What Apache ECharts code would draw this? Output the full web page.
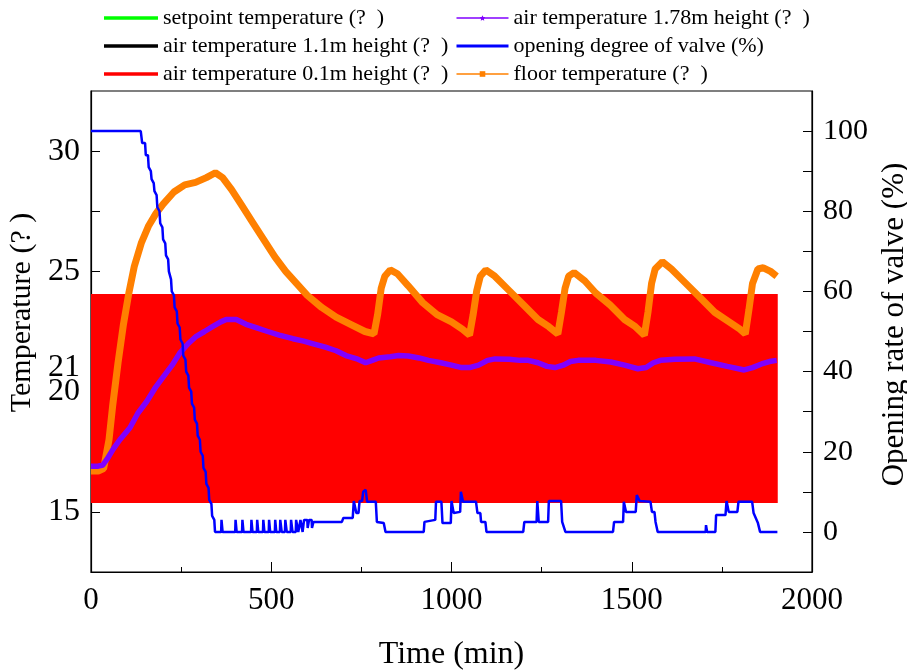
<!DOCTYPE html>
<html><head><meta charset="utf-8">
<script src="https://cdn.jsdelivr.net/npm/echarts@6/dist/echarts.min.js"></script>
<style>html,body{margin:0;padding:0;background:#fff}#c{width:907px;height:671px}</style>
</head><body><div id="c"></div>
<script>
// ---- data (time in min) ----
const seriesNames = [
  'setpoint temperature (?  )',
  'air temperature 1.1m height (?  )',
  'air temperature 0.1m height (?  )',
  'air temperature 1.78m height (?  )',
  'opening degree of valve (%)',
  'floor temperature (?  )'
];
const xTicks = [0, 500, 1000, 1500, 2000];
const leftLabels = [15, 20, 21, 25, 30];
const leftTicks = [15, 17.5, 20, 21, 22.5, 25, 27.5, 30];
const rightLabels = [0, 20, 40, 60, 80, 100];
const rightTicks = [0, 10, 20, 30, 40, 50, 60, 70, 80, 90, 100];
// band of 0.1m air temperature (time range, temperature range)
const band01Time = [0, 1905];
const band01Temp = [15.37, 24.06];

const floorData = [
  [0,16.7],[20,16.7],[35,16.8],[50,18.0],[60,19.4],[75,21.2],[90,22.8],[105,24.1],[120,25.2],[140,26.2],
  [160,26.9],[180,27.4],[200,27.8],[230,28.3],[260,28.6],[290,28.7],[320,28.9],[345,29.1],[365,28.9],
  [390,28.4],[420,27.7],[450,27.0],[480,26.3],[510,25.6],[540,25.0],[570,24.5],[600,24.0],[640,23.5],
  [680,23.1],[720,22.8],[760,22.5],[785,22.4],[795,23.2],[805,24.3],[815,24.8],[830,25.06],[850,24.9],
  [880,24.4],[920,23.7],[960,23.2],[1000,22.9],[1030,22.6],[1050,22.35],[1060,23.2],[1070,24.2],
  [1080,24.8],[1095,25.06],[1120,24.8],[1160,24.2],[1200,23.6],[1240,23.0],[1270,22.7],[1295,22.4],
  [1305,23.3],[1315,24.3],[1325,24.8],[1340,24.95],[1370,24.6],[1400,24.1],[1440,23.6],[1480,23.0],
  [1510,22.7],[1535,22.35],[1545,23.3],[1555,24.5],[1565,25.1],[1585,25.4],[1610,25.1],[1650,24.5],
  [1690,23.9],[1730,23.3],[1770,22.9],[1800,22.6],[1815,22.4],[1825,23.4],[1835,24.5],[1850,25.1],
  [1865,25.15],[1885,25.0],[1902,24.8]
];
const air178Data = [
  [0,16.9],[20,16.9],[33,16.95],[45,17.2],[61,17.6],[80,18.0],[108,18.5],[130,19.1],[155,19.6],[180,20.2],
  [200,20.6],[225,21.1],[246,21.6],[270,22.0],[292,22.3],[315,22.5],[337,22.7],[360,22.9],[375,23.0],
  [403,23.0],[430,22.8],[460,22.65],[490,22.5],[522,22.35],[560,22.2],[590,22.1],[614,22.0],[650,21.85],
  [680,21.7],[707,21.5],[740,21.35],[762,21.2],[780,21.3],[798,21.4],[830,21.45],[853,21.5],[880,21.48],
  [910,21.4],[936,21.3],[970,21.2],[1000,21.1],[1028,21.0],[1050,21.0],[1075,21.1],[1100,21.3],
  [1121,21.36],[1160,21.35],[1190,21.3],[1213,21.3],[1240,21.2],[1265,21.05],[1287,21.0],[1310,21.1],
  [1330,21.25],[1351,21.3],[1400,21.3],[1442,21.23],[1480,21.1],[1517,20.95],[1540,21.0],[1560,21.2],
  [1580,21.3],[1620,21.35],[1674,21.36],[1720,21.2],[1765,21.05],[1812,20.9],[1835,21.0],[1860,21.15],
  [1882,21.25],[1902,21.3]
];
const valveData = [
  [0,100],[138,100],[142,97],[150,97],[152,94],[158,94],[160,91],[166,90],[168,88],[174,87],[176,85],
  [182,84],[184,81],[190,80],[192,77],[198,76],[200,73],[206,72],[208,69],[214,68],[216,65],[222,63],
  [224,60],[230,59],[232,56],[238,55],[240,52],[246,51],[248,48],[254,47],[256,44],[262,43],[264,40],
  [270,39],[272,36],[278,35],[280,32],[286,31],[288,28],[294,27],[296,24],[302,23],[304,20],[310,19],
  [312,16],[318,15],[320,12],[326,11],[328,8],[334,7],[336,4],[342,3],[344,0],
  [361,0],[362,3],[364,3],[365,0],[400,0],[401,3],[403,3],[404,0],[419,0],[420,3],[422,3],[423,0],
  [444,0],[445,3],[447,3],[448,0],[460,0],[461,3],[463,3],[464,0],[477,0],[478,3],[480,3],[481,0],
  [493,0],[494,3],[496,3],[497,0],[510,0],[511,3],[513,3],[514,0],[524,0],[525,3],[528,3],[529,0],
  [538,0],[539,3],[542,3],[543,0],[554,0],[555,3],[558,3],[559,0],[568,0],[569,3],[574,3],[575,0],
  [580,0],[581,3],[586,3],[587,0],[590,0],[591,3],[600,3],[601,1],[604,1],[605,3],[612,3],[613,1],
  [616,1],[617,2.5],[696,2.5],[700,3.5],[726,3.5],[729,7.7],[734,7.7],[736,4.7],[742,4.7],[745,7.7],
  [752,7.7],[755,10],[762,10.5],[766,7.5],[790,7.5],[793,2.5],[812,2.2],[817,0],
  [923,0],[925,2.5],[955,3],[957,7.5],[972,7.5],[975,2.2],[998,2.2],[1000,7.7],[1004,7.7],[1006,4.7],
  [1024,5],[1026,10],[1030,10],[1032,7.5],[1068,7.5],[1072,4.7],[1080,4.7],[1082,2.5],[1094,2.5],[1097,0],
  [1199,0],[1202,2.5],[1236,2.5],[1238,7.7],[1240,7.7],[1242,2.5],[1268,2.5],[1270,7.7],[1304,7.7],
  [1307,2.5],[1312,2.5],[1316,0],[1448,0],[1451,2.5],[1476,2.5],[1478,7.5],[1482,7.5],[1484,5],
  [1511,5],[1514,9.2],[1518,9.2],[1522,7.7],[1552,7.5],[1556,5],[1563,5],[1566,2.5],[1570,2.5],[1572,0],
  [1705,0],[1706,1.7],[1708,1.7],[1709,0],[1732,0],[1734,4.2],[1760,4.2],[1763,7.7],[1766,7.7],
  [1769,5],[1793,5],[1796,7.5],[1834,7.5],[1838,4.7],[1850,2.2],[1853,2.2],[1856,0],[1904,0]
];

// ---- chart ----
const FONT = "'Liberation Serif','Times New Roman',serif";
const starPath = 'path://M0,-10L2.9,-4L9.5,-3.1L4.7,1.5L5.9,8.1L0,5L-5.9,8.1L-4.7,1.5L-9.5,-3.1L-2.9,-4Z';
const chart = echarts.init(document.getElementById('c'), null, {renderer: 'canvas'});
const axisLine = {show: true, onZero: false, lineStyle: {color: '#000', width: 1.2}};
const plain = v => String(v);
const option = {
  animation: false,
  backgroundColor: '#fff',
  textStyle: {fontFamily: FONT},
  grid: {left: 91, right: 95, top: 91, bottom: 99, show: true, borderColor: '#000', borderWidth: 1.2,
         containLabel: false, outerBoundsMode: 'none'},
  legend: [
    {
      orient: 'vertical', left: 104, top: 7, padding: 0, itemGap: 6, itemWidth: 54, itemHeight: 3.5, icon: 'rect',
      textStyle: {fontFamily: FONT, fontSize: 22, color: '#000'},
      data: seriesNames.slice(0, 3)
    },
    {
      orient: 'vertical', left: 455, top: 7, padding: 0, itemGap: 6, itemWidth: 52, itemHeight: 7,
      textStyle: {fontFamily: FONT, fontSize: 22, color: '#000'},
      lineStyle: {width: 1.5},
      data: [
        {name: seriesNames[3]},
        {name: seriesNames[4], lineStyle: {width: 3}, itemStyle: {opacity: 0}},
        {name: seriesNames[5]}
      ]
    }
  ],
  xAxis: {
    type: 'value', min: xTicks[0], max: xTicks[xTicks.length - 1], interval: 500,
    name: 'Time (min)', nameLocation: 'middle', nameGap: 67,
    nameTextStyle: {fontFamily: FONT, fontSize: 32, color: '#000'},
    axisLine: axisLine,
    axisTick: {show: true, inside: true, length: 10, lineStyle: {color: '#000'}},
    minorTick: {show: true, splitNumber: 2, length: 5, lineStyle: {color: '#000'}},
    axisLabel: {fontFamily: FONT, fontSize: 31, color: '#000', margin: 13, formatter: plain},
    splitLine: {show: false}
  },
  yAxis: [
    {
      type: 'value', min: 12.5, max: 32.5, position: 'left',
      name: 'Temperature (? )', nameLocation: 'middle', nameGap: 44,
      nameTextStyle: {fontFamily: FONT, fontSize: 30, color: '#000', padding: [0, 0, 0, 38]},
      axisLine: axisLine,
      axisTick: {show: true, inside: true, length: 9, customValues: leftTicks, lineStyle: {color: '#000'}},
      axisLabel: {fontFamily: FONT, fontSize: 32, color: '#000', margin: 11, customValues: leftLabels, formatter: plain},
      splitLine: {show: false}
    },
    {
      type: 'value', min: -10, max: 110, position: 'right',
      name: 'Opening rate of valve (%)', nameLocation: 'middle', nameGap: 61,
      nameTextStyle: {fontFamily: FONT, fontSize: 31, color: '#000', padding: [0, 0, 0, 14]},
      axisLine: axisLine,
      axisTick: {show: true, inside: true, length: 9, customValues: rightTicks, lineStyle: {color: '#000'}},
      axisLabel: {fontFamily: FONT, fontSize: 30, color: '#000', margin: 11, customValues: rightLabels, formatter: plain},
      splitLine: {show: false}
    }
  ],
  series: [
    {name: seriesNames[0], type: 'line', data: [], color: '#00ff00', symbol: 'none', yAxisIndex: 0},
    {name: seriesNames[1], type: 'line', data: [], color: '#000000', symbol: 'none', yAxisIndex: 0},
    {
      name: seriesNames[2], type: 'line', data: [], color: '#ff0000', symbol: 'none', yAxisIndex: 0,
      markArea: {
        silent: true,
        itemStyle: {color: '#ff0000', opacity: 1},
        data: [[{xAxis: band01Time[0], yAxis: band01Temp[0]}, {xAxis: band01Time[1], yAxis: band01Temp[1]}]]
      }
    },
    {
      name: seriesNames[5], type: 'line', data: floorData, color: '#ff8000', yAxisIndex: 0,
      symbol: 'rect', showSymbol: false, lineStyle: {width: 7}, z: 3
    },
    {
      name: seriesNames[3], type: 'line', data: air178Data, color: '#8000ff', yAxisIndex: 0,
      symbol: starPath, showSymbol: false, lineStyle: {width: 5.5}, z: 4
    },
    {
      name: seriesNames[4], type: 'line', data: valveData, color: '#0000ff', yAxisIndex: 1,
      symbol: 'none', lineStyle: {width: 2.5}, z: 5
    }
  ]
};
chart.setOption(option);
</script>
</body></html>
